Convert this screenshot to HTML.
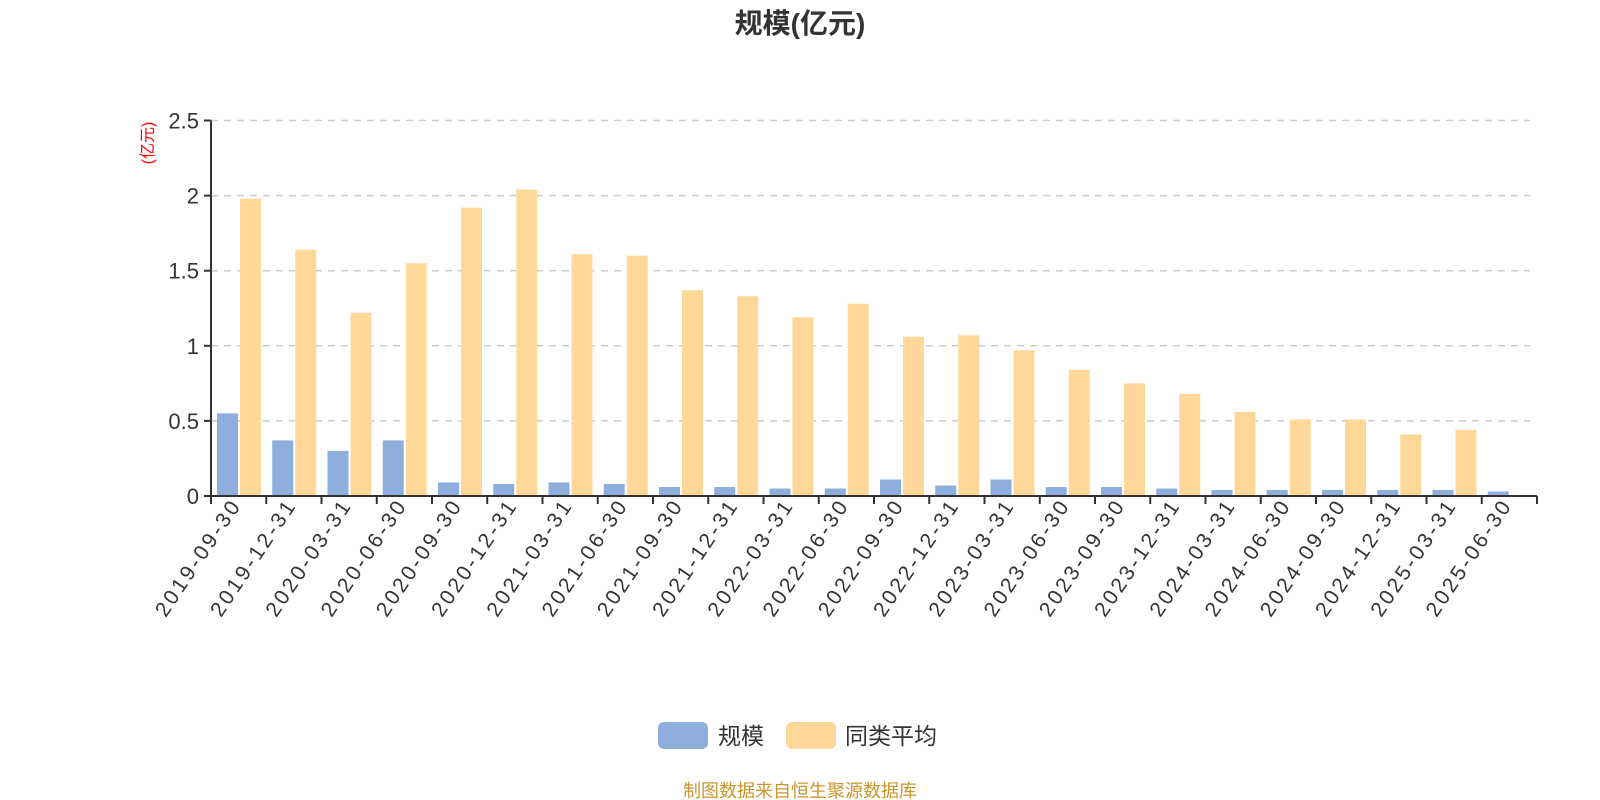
<!DOCTYPE html>
<html><head><meta charset="utf-8"><style>
body{margin:0;background:#fff;}
svg{display:block;font-family:"Liberation Sans","Noto Sans CJK SC",sans-serif;}
</style></head><body>
<svg id="chart" width="1600" height="800">
<text x="800" y="33" text-anchor="middle" font-size="28" font-weight="bold" fill="#333">规模(亿元)</text>
<text transform="translate(153,143) rotate(-90)" text-anchor="middle" font-size="16" fill="#f00">(亿元)</text>
<g id="grid"></g><g id="bars"></g><g id="axes"></g>
<g>
<rect x="658" y="722" width="50" height="27" rx="6" fill="#8eaedb"/>
<text x="718" y="744" font-size="23" fill="#333">规模</text>
<rect x="786" y="722" width="50" height="27" rx="6" fill="#ffd899"/>
<text x="845" y="744" font-size="23" fill="#333">同类平均</text>
</g>
<text x="800" y="797" text-anchor="middle" font-size="18" fill="#c9962e">制图数据来自恒生聚源数据库</text>
</svg>
<script>
const categories=["2019-09-30","2019-12-31","2020-03-31","2020-06-30","2020-09-30","2020-12-31","2021-03-31","2021-06-30","2021-09-30","2021-12-31","2022-03-31","2022-06-30","2022-09-30","2022-12-31","2023-03-31","2023-06-30","2023-09-30","2023-12-31","2024-03-31","2024-06-30","2024-09-30","2024-12-31","2025-03-31","2025-06-30"];
const scaleValues=[0.55,0.37,0.30,0.37,0.09,0.08,0.09,0.08,0.06,0.06,0.05,0.05,0.11,0.07,0.11,0.06,0.06,0.05,0.04,0.04,0.04,0.04,0.04,0.03];
const avgValues=[1.98,1.64,1.22,1.55,1.92,2.04,1.61,1.60,1.37,1.33,1.19,1.28,1.06,1.07,0.97,0.84,0.75,0.68,0.56,0.51,0.51,0.41,0.44,null];
const yTicks=[0,0.5,1,1.5,2,2.5];
const NS="http://www.w3.org/2000/svg";
const x0=211,x1=1537,yBase=496,yTop=120.5,yMax=2.5;
const band=(x1-x0)/categories.length;
function yScale(v){return yBase-(v/yMax)*(yBase-yTop);}
function xBand(i){return x0+i*band;}
function mk(tag,attrs,parent){const e=document.createElementNS(NS,tag);for(const k in attrs)e.setAttribute(k,attrs[k]);parent.appendChild(e);return e;}
const grid=document.getElementById('grid'),bars=document.getElementById('bars'),axes=document.getElementById('axes');
yTicks.forEach(t=>{
  const y=yScale(t);
  if(t>0){const l=mk('line',{x1:x0,x2:1530,y1:y,y2:y,stroke:'#ccc','stroke-width':1.5,'stroke-dasharray':'7,6'},grid);
  
  }
  const tk=mk('line',{x1:x0-7,x2:x0,y1:y,y2:y,stroke:'#333','stroke-width':2},axes);
  
  
  const tx=mk('text',{x:x0-12,y:y+8,'text-anchor':'end','font-size':22,fill:'#333'},axes);
  tx.textContent=String(t);
  
  
});
categories.forEach((c,i)=>{
  const bx=xBand(i);
  const sv=scaleValues[i];
  if(sv!=null){const r=mk('rect',{x:bx+6,y:yScale(sv),width:21,height:yBase-yScale(sv),fill:'#8eaedb'},bars);
  
  }
  const av=avgValues[i];
  if(av!=null){const r=mk('rect',{x:bx+29,y:yScale(av),width:21,height:yBase-yScale(av),fill:'#ffd899'},bars);
  
  }
  const cx=bx+band/2+2;
  const t=mk('text',{transform:'translate('+cx+',507) rotate(-56)','text-anchor':'end','font-size':21,fill:'#333',textLength:134,lengthAdjust:'spacing'},axes);
  t.textContent=c;
  
  
});
for(let i=0;i<=categories.length;i++){
  const x=xBand(i);
  const tk=mk('line',{x1:x,x2:x,y1:yBase,y2:yBase+8,stroke:'#333','stroke-width':2},axes);
  
  
}
const xa=mk('line',{x1:x0,x2:x1,y1:yBase,y2:yBase,stroke:'#333','stroke-width':2},axes);


const ya=mk('line',{x1:x0,x2:x0,y1:yTop,y2:yBase,stroke:'#333','stroke-width':2},axes);


</script>
</body></html>
